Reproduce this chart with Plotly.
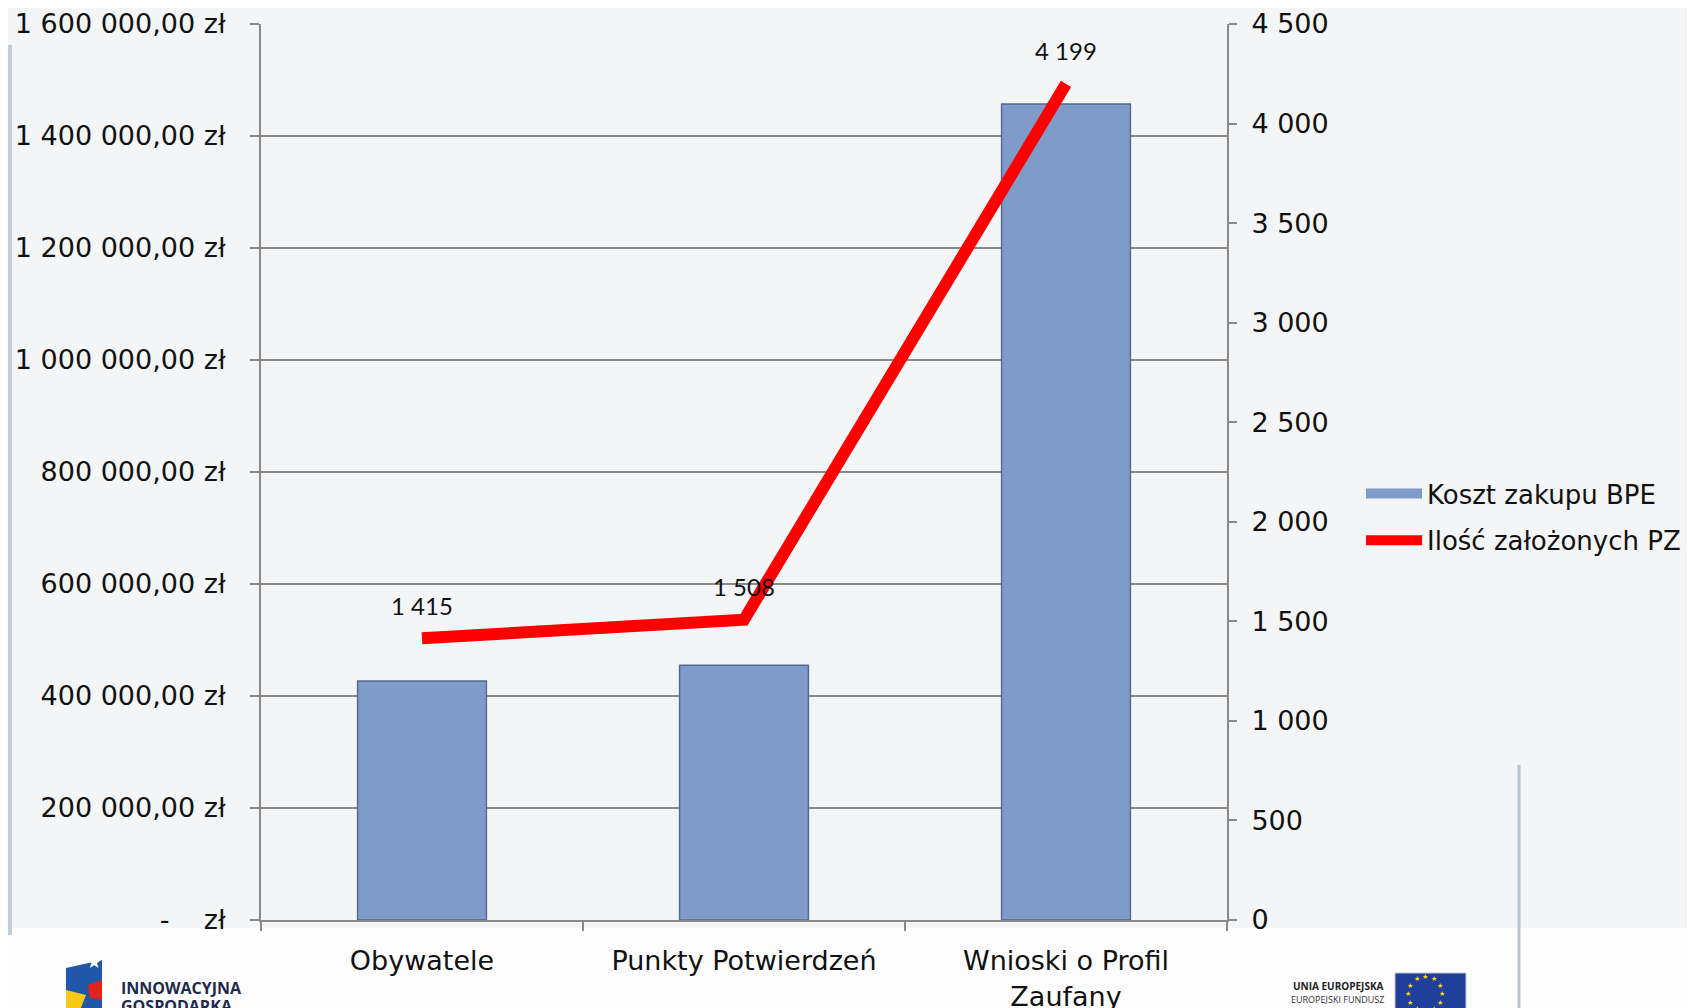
import math
import plotly.graph_objects as go

# ---------------- data ----------------
categories = ["Obywatele", "Punkty Potwierdzeń", "Wnioski o Profil<br>Zaufany"]
koszt_bpe = [427000, 455000, 1457000]          # Koszt zakupu BPE (zł)
ilosc_pz = [1415, 1508, 4199]                  # Ilość założonych PZ

left_tickvals = [0, 200000, 400000, 600000, 800000, 1000000, 1200000, 1400000, 1600000]
left_ticktext = ["-\u00a0\u00a0\u00a0\u00a0zł", "200 000,00 zł", "400 000,00 zł", "600 000,00 zł",
                 "800 000,00 zł", "1 000 000,00 zł", "1 200 000,00 zł", "1 400 000,00 zł",
                 "1 600 000,00 zł"]
right_tickvals = [0, 500, 1000, 1500, 2000, 2500, 3000, 3500, 4000, 4500]
right_ticktext = ["0", "500", "1 000", "1 500", "2 000", "2 500", "3 000", "3 500", "4 000", "4 500"]

series_names = ["Koszt zakupu BPE", "Ilość założonych PZ"]

# ---------------- styling ----------------
W, H = 1695, 1008          # browser window
OFF = 8                    # default body margin of the page
FW, FH = W - OFF, H - OFF
L, R, T, B = 261, 1227, 24, 920   # plot area in window pixels
AX = "#8a8a8a"
BAR = "#7f9bca"
FONT = "DejaVu Sans"
FS = 27


def px(x):
    return (x - L) / (R - L)


def py(y):
    return (B - y) / (B - T)


def fmt(v):
    return f"{v:,}".replace(",", " ")


fig = go.Figure()

fig.add_trace(go.Bar(
    x=categories, y=koszt_bpe, width=0.4, name=series_names[0],
    marker=dict(color=BAR, line=dict(color="#556a92", width=1.5)),
    showlegend=False,
))
# legend proxy for the bar series (wide swatch)
fig.add_trace(go.Scatter(
    x=[None], y=[None], mode="lines", name=series_names[0], legendgroup="a",
    line=dict(color=BAR, width=14),
))
fig.add_trace(go.Scatter(
    x=categories, y=ilosc_pz, yaxis="y2", mode="lines", name=series_names[1], legendgroup="b",
    line=dict(color="#ff0000", width=12),
))

annotations = []
for c, v in zip(categories, ilosc_pz):
    annotations.append(dict(x=c, y=v, xref="x", yref="y2", text=fmt(v), showarrow=False,
                            yshift=33, font=dict(family="Lato", size=24, color="#111111")))

# decorative slide elements (logos text)
annotations += [
    dict(x=px(119), y=py(988), xref="paper", yref="paper", xanchor="left", yanchor="middle",
         text="<b>INNOWACYJNA</b>", showarrow=False,
         font=dict(family="Open Sans", size=16, color="#1d2a4d")),
    dict(x=px(119), y=py(1006), xref="paper", yref="paper", xanchor="left", yanchor="middle",
         text="<b>GOSPODARKA</b>", showarrow=False,
         font=dict(family="Open Sans", size=16, color="#1d2a4d")),
    dict(x=px(1386), y=py(986), xref="paper", yref="paper", xanchor="right", yanchor="middle",
         text="<b>UNIA EUROPEJSKA</b>", showarrow=False,
         font=dict(family="Open Sans", size=10, color="#222222")),
    dict(x=px(1386), y=py(999), xref="paper", yref="paper", xanchor="right", yanchor="middle",
         text="EUROPEJSKI FUNDUSZ", showarrow=False,
         font=dict(family="Open Sans", size=9, color="#333333")),
    dict(x=px(84), y=py(974), xref="paper", yref="paper", showarrow=False, text="★",
         font=dict(size=18, color="white")),
]
for k in range(12):
    a = 2 * math.pi * k / 12
    annotations.append(dict(x=px(1430 + 17 * math.cos(a)), y=py(1000 + 17 * math.sin(a)),
                            xref="paper", yref="paper", showarrow=False, text="★",
                            font=dict(size=7, color="#ffdd00")))

shapes = [
    dict(type="rect", xref="paper", yref="paper", x0=px(0), x1=px(W + 10), y0=py(928), y1=py(H + 10),
         fillcolor="#fdfdfd", line=dict(width=0), layer="below"),
    dict(type="line", xref="paper", yref="paper", x0=px(10), x1=px(10), y0=py(45), y1=py(935),
         line=dict(color="#c3cdd9", width=4), layer="below"),
    dict(type="line", xref="paper", yref="paper", x0=px(1519), x1=px(1519), y0=py(765), y1=py(H + 10),
         line=dict(color="#b5c5d6", width=3), layer="below"),
    dict(type="path", xref="paper", yref="paper",
         path=f"M {px(66)} {py(968)} L {px(102)} {py(960)} L {px(102)} {py(1010)} L {px(66)} {py(1010)} Z",
         fillcolor="#2157a8", line=dict(width=0)),
    dict(type="path", xref="paper", yref="paper",
         path=f"M {px(66)} {py(990)} L {px(86)} {py(995)} L {px(80)} {py(1010)} L {px(66)} {py(1010)} Z",
         fillcolor="#f6c817", line=dict(width=0)),
    dict(type="path", xref="paper", yref="paper",
         path=f"M {px(88)} {py(985)} L {px(102)} {py(980)} L {px(102)} {py(1000)} L {px(90)} {py(998)} Z",
         fillcolor="#e2231a", line=dict(width=0)),
    dict(type="rect", xref="paper", yref="paper", x0=px(1395), x1=px(1466), y0=py(973), y1=py(H + 10),
         fillcolor="#1f3f9a", line=dict(color="#c0c8d8", width=1)),
]

fig.update_layout(
    width=FW, height=FH, autosize=False,
    margin=dict(l=L - OFF, r=FW - (R - OFF), t=T - OFF, b=FH - (B - OFF), pad=0, autoexpand=False),
    paper_bgcolor="#f4f5f7", plot_bgcolor="rgba(0,0,0,0)",
    font=dict(family=FONT, size=FS, color="#111111"),
    xaxis=dict(type="category", range=[-0.5, 2.5], showline=True, linecolor=AX, linewidth=2,
               ticks="outside", tickson="boundaries", ticklen=9, tickwidth=2, tickcolor=AX,
               showgrid=False, tickfont=dict(family=FONT, size=FS, color="#111111"),
               ticklabelstandoff=16, automargin=False),
    yaxis=dict(range=[0, 1600000], tickvals=left_tickvals, ticktext=left_ticktext,
               showgrid=True, gridcolor=AX, gridwidth=2, zeroline=False,
               showline=True, linecolor=AX, linewidth=2, ticks="outside", ticklen=9,
               tickwidth=2, tickcolor=AX, tickfont=dict(family=FONT, size=FS, color="#111111"),
               ticklabelstandoff=19, automargin=False),
    yaxis2=dict(range=[0, 4500], tickvals=right_tickvals, ticktext=right_ticktext,
                overlaying="y", side="right", showgrid=False, zeroline=False,
                showline=True, linecolor=AX, linewidth=2, ticks="outside", ticklen=8,
                tickwidth=2, tickcolor=AX, tickfont=dict(family=FONT, size=FS, color="#111111"),
                ticklabelstandoff=9, automargin=False),
    legend=dict(x=px(1361), y=py(517), xanchor="left", yanchor="middle",
                bgcolor="rgba(0,0,0,0)", font=dict(family=FONT, size=26, color="#111111"),
                traceorder="grouped", tracegroupgap=10, itemwidth=56),
    annotations=annotations,
    shapes=shapes,
)

fig.write_html("out.html")
